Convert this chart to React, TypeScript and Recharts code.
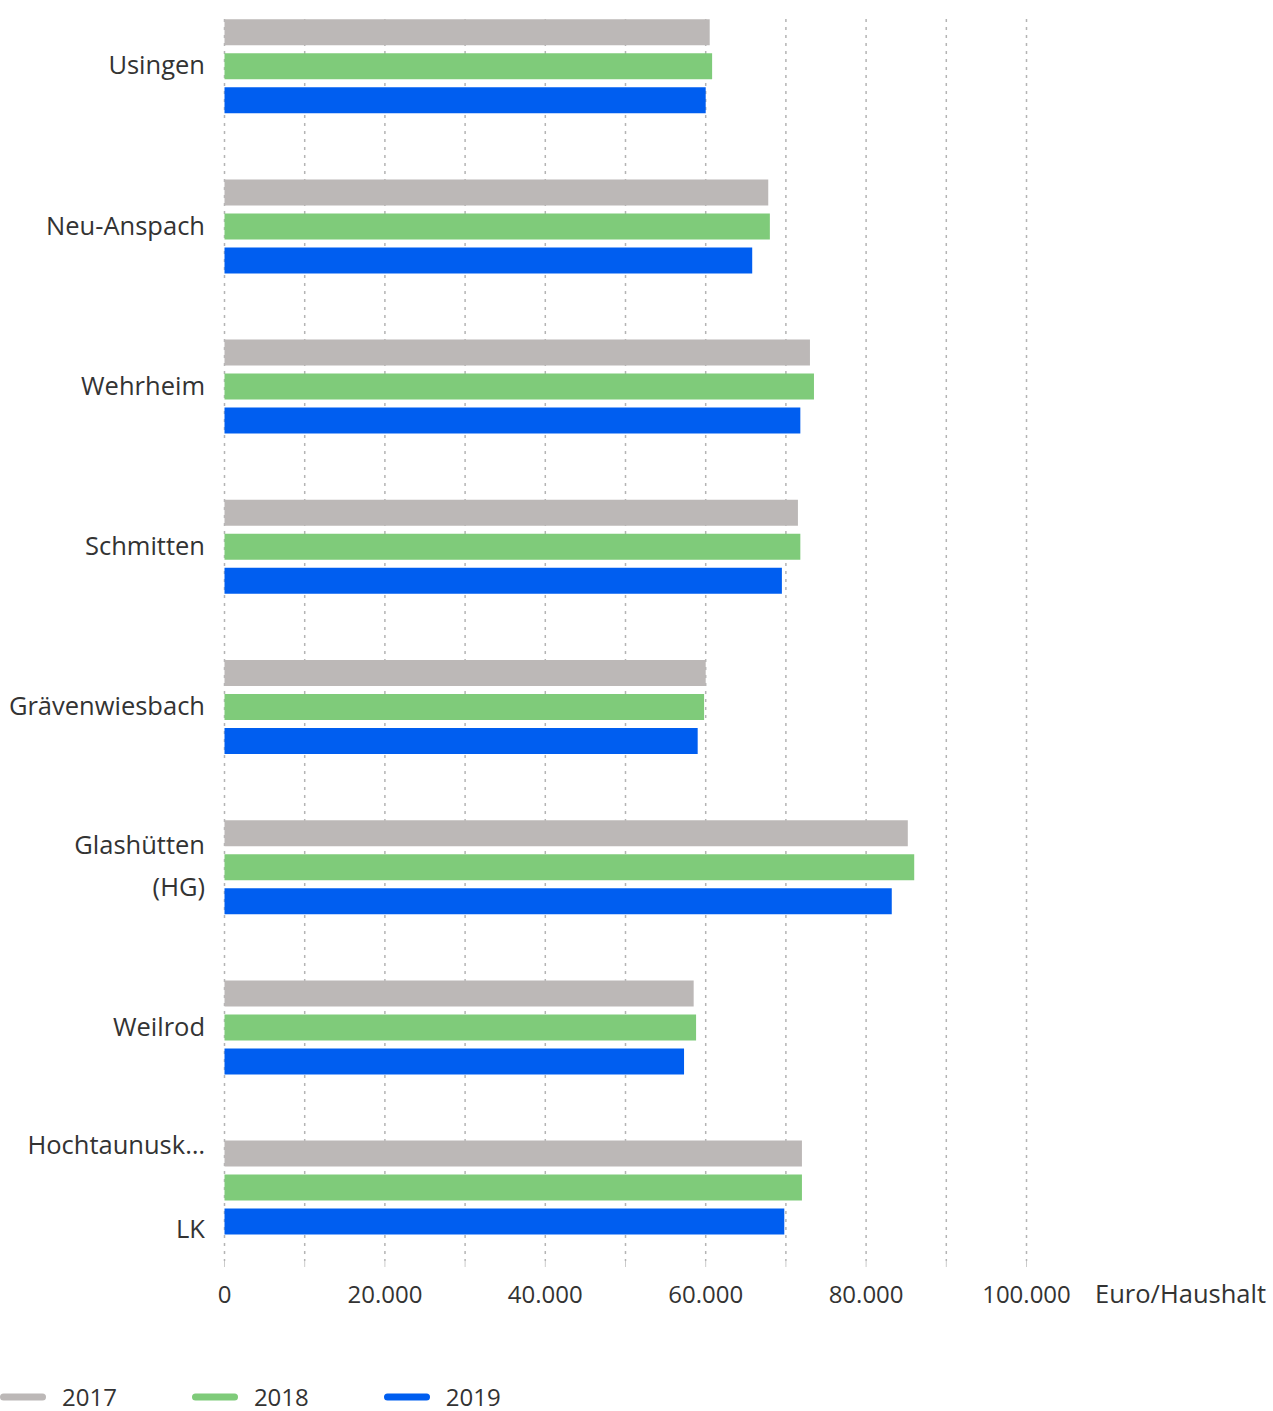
import React from 'react';
import { BarChart, Bar, XAxis, YAxis, CartesianGrid, Legend, Label } from 'recharts';

const categories = ['Usingen', 'Neu-Anspach', 'Wehrheim', 'Schmitten', 'Grävenwiesbach', 'Glashütten (HG)', 'Weilrod', 'Hochtaunuskreis LK'];
const labelLines: string[][] = [
  ['Usingen'],
  ['Neu-Anspach'],
  ['Wehrheim'],
  ['Schmitten'],
  ['Grävenwiesbach'],
  ['Glashütten', '(HG)'],
  ['Weilrod'],
  ['Hochtaunusk…', '', 'LK'],
];
const values2017 = [60500, 67800, 73000, 71500, 60000, 85200, 58500, 72000];
const values2018 = [60800, 68000, 73500, 71800, 59800, 86000, 58800, 72000];
const values2019 = [60000, 65800, 71800, 69500, 59000, 83200, 57300, 69800];
const seriesNames = ['2017', '2018', '2019'];
const seriesColors = ['#bcb8b7', '#7fcb7a', '#005ef0'];
const xTicks = [0, 10000, 20000, 30000, 40000, 50000, 60000, 70000, 80000, 90000, 100000];
const unitLabel = 'Euro/Haushalt';

const data = categories.map((name, i) => ({
  name,
  v2017: values2017[i],
  v2018: values2018[i],
  v2019: values2019[i],
}));

const FONT = '"Open Sans", sans-serif';
const TEXT = '#333333';

const fmt = (v: number) => String(v).replace(/\B(?=(\d{3})+(?!\d))/g, '.');

const YTick = (props: any) => {
  const { x, y, payload } = props;
  const idx = categories.indexOf(payload.value);
  const lines = idx >= 0 ? labelLines[idx] : [payload.value];
  const lh = 42;
  const start = y - 2 - ((lines.length - 1) * lh) / 2;
  return (
    <g>
      {lines.map((l, i) => (
        <text key={i} x={x} y={start + i * lh} textAnchor="end" dominantBaseline="central" fontFamily={FONT} fontSize={25.5} fill={TEXT}>
          {l}
        </text>
      ))}
    </g>
  );
};

const XTick = (props: any) => {
  const { x, y, payload } = props;
  if (payload.value % 20000 !== 0) return <g />;
  return (
    <text x={x} y={y + 26} textAnchor="middle" dominantBaseline="central" fontFamily={FONT} fontSize={24} fill={TEXT}>
      {fmt(payload.value)}
    </text>
  );
};

const LegendContent = (props: any) => {
  const { payload } = props;
  return (
    <div style={{ display: 'flex', alignItems: 'center', height: 26 }}>
      {(payload || []).map((p: any, i: number) => (
        <div key={i} style={{ display: 'flex', alignItems: 'center', marginRight: 75 }}>
          <svg width={46} height={10} style={{ display: 'block' }}>
            <line x1={3.5} y1={5} x2={42.5} y2={5} stroke={p.color} strokeWidth={7} strokeLinecap="round" />
          </svg>
          <span style={{ marginLeft: 16, fontFamily: FONT, fontSize: 24, color: TEXT, lineHeight: '26px' }}>{p.value}</span>
        </div>
      ))}
    </div>
  );
};

export default function App() {
  return (
    <div style={{ position: 'absolute', left: 0, top: 0, width: 1273, height: 1411, background: '#fff' }}>
      <BarChart
        width={1273}
        height={1411}
        data={data}
        layout="vertical"
        margin={{ top: 19, right: 246.5, left: 0, bottom: 110 }}
        barSize={26}
        barGap={8}
        style={{ fontFamily: FONT }}
      >
        <CartesianGrid horizontal={false} vertical={true} stroke="#b4b4b4" strokeWidth={1.5} strokeDasharray="3 5" />
        <XAxis
          type="number"
          domain={[0, 100000]}
          ticks={xTicks}
          interval={0}
          axisLine={false}
          tickLine={{ stroke: '#cccccc' }}
          tickSize={6}
          tickMargin={0}
          height={40}
          tick={<XTick />}
        >
          <Label
            content={(p: any) => {
              const vb = p.viewBox || {};
              return (
                <text x={vb.x + vb.width + 68.5} y={vb.y + 32} textAnchor="start" dominantBaseline="central" fontFamily={FONT} fontSize={25.5} fill={TEXT}>
                  {unitLabel}
                </text>
              );
            }}
          />
        </XAxis>
        <YAxis
          type="category"
          dataKey="name"
          width={224.5}
          axisLine={false}
          tickLine={false}
          tickSize={0}
          tickMargin={19.5}
          interval={0}
          padding={{ top: -32.8, bottom: -6.8 }}
          tick={<YTick />}
        />
        <Legend
          layout="horizontal"
          verticalAlign="middle"
          align="center"
          content={<LegendContent />}
          wrapperStyle={{ position: 'absolute', left: 0, top: 1384, width: 800, height: 26 }}
        />
        <Bar dataKey="v2017" name={seriesNames[0]} fill={seriesColors[0]} isAnimationActive={false} />
        <Bar dataKey="v2018" name={seriesNames[1]} fill={seriesColors[1]} isAnimationActive={false} />
        <Bar dataKey="v2019" name={seriesNames[2]} fill={seriesColors[2]} isAnimationActive={false} />
      </BarChart>
    </div>
  );
}
